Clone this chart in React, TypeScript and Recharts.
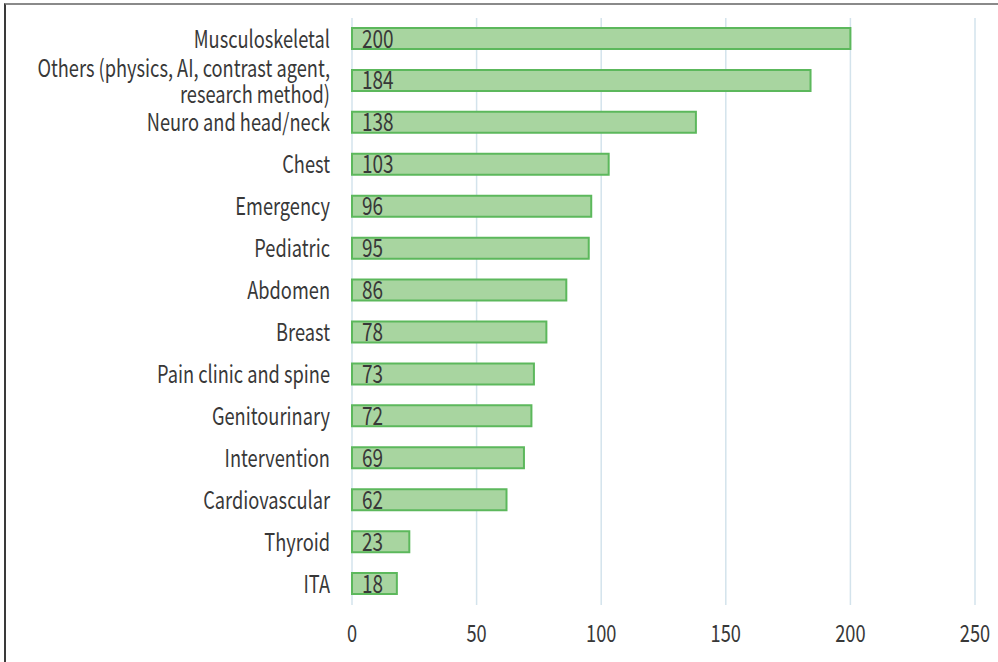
import React from "react";
import { BarChart, Bar, XAxis, YAxis, CartesianGrid, LabelList } from "recharts";

const categories = [
  "Musculoskeletal",
  "Others (physics, AI, contrast agent, research method)",
  "Neuro and head/neck",
  "Chest",
  "Emergency",
  "Pediatric",
  "Abdomen",
  "Breast",
  "Pain clinic and spine",
  "Genitourinary",
  "Intervention",
  "Cardiovascular",
  "Thyroid",
  "ITA",
];
const counts = [200, 184, 138, 103, 96, 95, 86, 78, 73, 72, 69, 62, 23, 18];
const xTicks = [0, 50, 100, 150, 200, 250];

const data = categories.map((name, i) => ({ name, value: counts[i] }));

const FONT = "'Noto Sans CJK KR', 'Noto Sans', sans-serif";
const SX = 0.76;
const TEXT = "#383838";
const WEIGHT = 400;

function wrap(s: string, max: number): string[] {
  const words = s.split(" ");
  const lines: string[] = [];
  let cur = "";
  for (const w of words) {
    const t = cur ? cur + " " + w : w;
    if (t.length > max && cur) {
      lines.push(cur);
      cur = w;
    } else cur = t;
  }
  if (cur) lines.push(cur);
  return lines;
}

const YTick = (props: any) => {
  const { x, y, payload } = props;
  const lines = wrap(String(payload.value), 36);
  const lh = 26;
  const start = -((lines.length - 1) * lh) / 2;
  return (
    <g transform={`translate(${x - 14},${y}) scale(${SX},1)`}>
      {lines.map((l, i) => (
        <text
          key={i}
          x={0}
          y={start + i * lh}
          dy="0.36em"
          textAnchor="end"
          fill={TEXT}
          fontSize={24}
          fontWeight={WEIGHT}
          fontFamily={FONT}
        >
          {l}
        </text>
      ))}
    </g>
  );
};

const XTick = (props: any) => {
  const { x, payload } = props;
  return (
    <g transform={`translate(${x},633) scale(${SX},1)`}>
      <text
        x={0}
        y={0}
        dy="0.36em"
        textAnchor="middle"
        fill={TEXT}
        fontSize={24}
        fontWeight={WEIGHT}
        fontFamily={FONT}
      >
        {payload.value}
      </text>
    </g>
  );
};

const ValueLabel = (props: any) => {
  const { x, y, height, value } = props;
  return (
    <g transform={`translate(${x + 10},${y + height / 2}) scale(${SX},1)`}>
      <text
        x={0}
        y={0}
        dy="0.36em"
        textAnchor="start"
        fill={TEXT}
        fontSize={25}
        fontWeight={WEIGHT}
        fontFamily={FONT}
      >
        {value}
      </text>
    </g>
  );
};

export default function App() {
  return (
    <div
      style={{
        position: "fixed",
        left: 0,
        top: 0,
        width: 998,
        height: 662,
        background: "#fff",
        fontFamily: FONT,
      }}
    >
      <div
        style={{
          position: "absolute",
          left: 4,
          top: 3,
          right: 0,
          bottom: 0,
          borderLeft: "2px solid #3a3a3a",
          borderTop: "2px solid #8a8a8a",
        }}
      />
      <div style={{ position: "absolute", left: 0, top: 0 }}>
        <BarChart
          width={998}
          height={662}
          data={data}
          layout="vertical"
          margin={{ top: 18, right: 23, left: 0, bottom: 0 }}
          barCategoryGap={0}
        >
          <CartesianGrid horizontal={false} vertical={true} stroke="#d3e3ec" strokeWidth={1.5} />
          <XAxis
            type="number"
            domain={[0, 250]}
            ticks={xTicks}
            axisLine={false}
            tickLine={false}
            height={57}
            tick={<XTick />}
            interval={0}
          />
          <YAxis
            type="category"
            dataKey="name"
            width={352}
            axisLine={false}
            tickLine={false}
            tick={<YTick />}
            interval={0}
          />
          <Bar
            dataKey="value"
            fill="#a8d5a0"
            stroke="#5cb85c"
            strokeWidth={2}
            barSize={21}
            isAnimationActive={false}
          >
            <LabelList dataKey="value" content={<ValueLabel />} />
          </Bar>
        </BarChart>
      </div>
    </div>
  );
}
